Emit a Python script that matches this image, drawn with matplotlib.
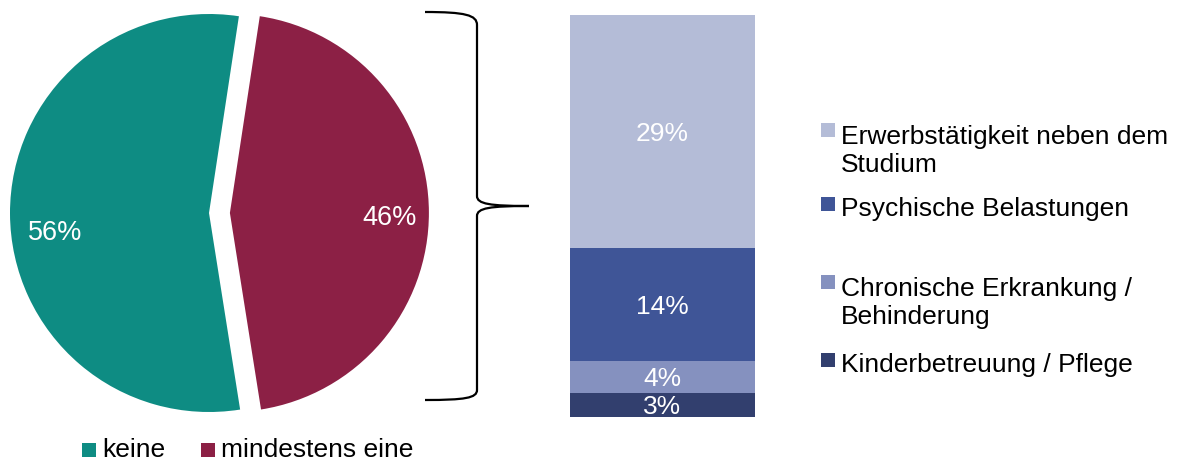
import matplotlib
matplotlib.use("Agg")
import matplotlib.pyplot as plt
from matplotlib.patches import Rectangle, PathPatch
from matplotlib.path import Path

plt.rcParams['font.family'] = ['Liberation Sans', 'DejaVu Sans']

# ---- data ----
pie_labels = ["keine", "mindestens eine"]
pie_values = [56, 46]
pie_colors = ["#0E8C83", "#8C2045"]

bar_categories = ["Kinderbetreuung / Pflege",
                  "Chronische Erkrankung /\nBehinderung",
                  "Psychische Belastungen",
                  "Erwerbstätigkeit neben dem\nStudium"]
bar_values = [3, 4, 14, 29]
bar_colors = ["#323F6E", "#8591BF", "#3F5597", "#B4BCD7"]

W, H = 1180, 462
fig = plt.figure(figsize=(W / 100, H / 100), dpi=100)


def px_axes(x0, y0, x1, y1):
    return fig.add_axes([x0 / W, 1 - y1 / H, (x1 - x0) / W, (y1 - y0) / H])


# ---- pie ----
axp = px_axes(10, 14, 408, 412)
wedges, _ = axp.pie(pie_values, colors=pie_colors, startangle=-81,
                    counterclock=False, explode=[0, 0.105], radius=1,
                    wedgeprops=dict(linewidth=0))
for w in wedges:
    w.set_clip_on(False)
axp.set_xlim(-1, 1)
axp.set_ylim(-1, 1)
axp.set_aspect('equal')
axp.axis('off')
pie_label_pos = [(-0.774, -0.136), (0.905, -0.060)]
for v, (x, y) in zip(pie_values, pie_label_pos):
    axp.text(x, y, f"{v}%", color="white", fontsize=19.5, ha="center", va="baseline")

# ---- stacked bar ----
axb = px_axes(570, 15, 755, 417)
bottom = 0
for v, c, lab in zip(bar_values, bar_colors, bar_categories):
    cont = axb.bar([0], [v], bottom=bottom, width=1, color=c, linewidth=0, label=lab)
    anns = axb.bar_label(cont, labels=[f"{v}%"], label_type="center", color="white",
                         fontsize=19)
    for a in anns:
        a.set_verticalalignment("center_baseline")
    bottom += v
axb.set_xlim(-0.5, 0.5)
axb.set_ylim(0, sum(bar_values))
axb.axis('off')

# ---- overlay: brace and legends ----
axo = fig.add_axes([0, 0, 1, 1], zorder=-1)
axo.set_xlim(0, W)
axo.set_ylim(H, 0)
axo.axis('off')

verts = [(425, 12), (465, 12), (477, 15), (477, 25),
         (477, 196),
         (477, 204), (490, 206), (529, 206),
         (490, 206), (477, 208), (477, 216),
         (477, 390),
         (477, 398), (465, 400), (425, 400)]
codes = [Path.MOVETO, Path.CURVE4, Path.CURVE4, Path.CURVE4,
         Path.LINETO,
         Path.CURVE4, Path.CURVE4, Path.CURVE4,
         Path.CURVE4, Path.CURVE4, Path.CURVE4,
         Path.LINETO,
         Path.CURVE4, Path.CURVE4, Path.CURVE4]
axo.add_patch(PathPatch(Path(verts, codes), facecolor="none", edgecolor="black", lw=1.6))

# right legend (top to bottom), first-line baselines
legend_baseline = [142, 216, 294, 372]
line_gap = 30
for lab, c, y in zip(bar_categories[::-1], bar_colors[::-1], legend_baseline):
    nlines = lab.count("\n") + 1
    axo.add_patch(Rectangle((821, y - 19), 14, 14, color=c, lw=0))
    axo.text(841, y + line_gap * (nlines - 1), lab, fontsize=19, ha="left",
             va="baseline", linespacing=1.2)

# bottom legend
bottom_x = [(82, 102), (201, 221)]
for lab, c, (sx, tx) in zip(pie_labels, pie_colors, bottom_x):
    axo.add_patch(Rectangle((sx, 443), 14, 14, color=c, lw=0))
    axo.text(tx, 457, lab, fontsize=19, ha="left", va="baseline")

fig.savefig("out.png", dpi=100)
